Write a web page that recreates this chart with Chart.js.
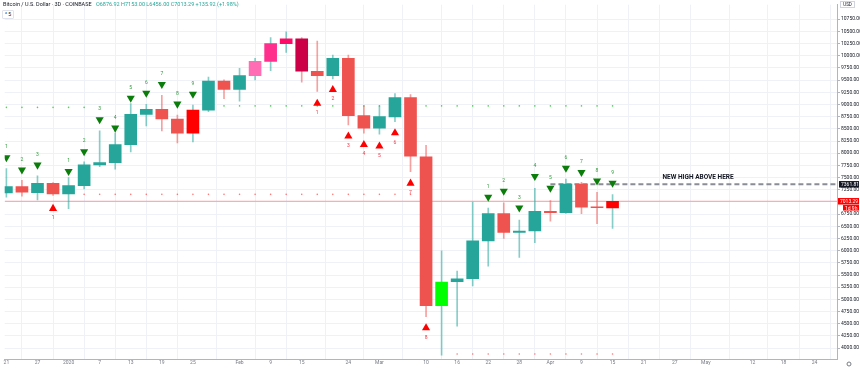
<!DOCTYPE html>
<html>
<head>
<meta charset="utf-8">
<script src="https://cdn.jsdelivr.net/npm/chart.js@4.4.1/dist/chart.umd.min.js"></script>
<style>
  html, body { margin: 0; padding: 0; background: #fff; }
  #wrap { position: relative; width: 860px; height: 369px; overflow: hidden; }
  #title { position: absolute; left: 3px; top: 1px; font: 5.5px Roboto, sans-serif; color: #131722; white-space: nowrap; }
  #title .ohlc { color: #26a69a; margin-left: 3px; }
  #collapse { position: absolute; left: 2px; top: 10px; width: 10px; height: 7px; border: 1px solid #e0e3eb; border-radius: 1px;
    font: 5px Roboto, sans-serif; color: #131722; line-height: 7px; text-align: center; background: #fff; }
</style>
</head>
<body>
<div id="wrap">
  <canvas id="btc-chart" width="860" height="369"></canvas>
  <div id="title">Bitcoin / U.S. Dollar · 3D · COINBASE <span class="ohlc">O6876.92 H7153.00 L6456.00 C7013.29 +135.92 (+1.98%)</span></div>
  <div id="collapse">^ 5</div>
</div>
<script>
// 3-day candles, Dec 2019 - Apr 15 2020 (index = candle number)
const opens = [7184, 7313, 7192, 7380, 7164, 7333, 7759, 7805, 8176, 8797, 8898, 8702, 8412, 8885, 9479, 9309, 9593, 9884, 10248, 10349,
  9681, 9593, 9944, 8771, 8514, 8743, 9141, 7927, 4870, 5362, 5423, 6200, 6759, 6374, 6403, 6807, 6779, 7366, 6894, 6876.92];
const highs = [7684, 7441, 7536, 7395, 7502, 7825, 8459, 8412, 9020, 9005, 9188, 8783, 8985, 9560, 9505, 9742, 9944, 10370, 10491, 10370,
  10301, 10011, 10011, 8973, 8973, 9222, 9202, 8163, 5998, 5579, 6996, 6874, 6981, 6625, 7279, 7030, 7467, 7400, 7198, 7153];
const lows = [7097, 7117, 7042, 7131, 6860, 7265, 7724, 7670, 8028, 8560, 8459, 8210, 8230, 8851, 9121, 9066, 9505, 9694, 10066, 9459,
  9268, 9526, 8580, 8412, 8392, 8649, 7623, 4648, 3858, 4451, 5275, 5680, 6253, 5862, 6166, 6605, 6765, 6759, 6556, 6456];
const closes = [7313, 7198, 7380, 7164, 7333, 7759, 7805, 8176, 8797, 8898, 8702, 8412, 8885, 9479, 9309, 9593, 9884, 10248, 10349, 9681,
  9593, 9944, 8771, 8514, 8750, 9141, 7941, 4870, 5356, 5423, 6200, 6759, 6374, 6403, 6807, 6779, 7366, 6894, 6880, 7013.29];

// bar colouring from the setup indicator: t = teal, r = salmon, R = red, G = green, p1..p4 = pinks
const barColorCodes = ["t", "r", "t", "r", "t", "t", "t", "t", "t", "t", "r", "r", "R", "t", "r", "t", "p1", "p2", "p3", "p4",
  "r", "t", "r", "r", "t", "t", "r", "r", "G", "t", "t", "t", "r", "t", "t", "r", "t", "r", "r", "R"];

// sell setup counts (green, above bars)
const sellIdx = [0, 1, 2, 4, 5, 6, 7, 8, 9, 10, 11, 12, 31, 32, 33, 34, 35, 36, 37, 38, 39];
const sellLevel = [7911, 7658, 7759, 7628, 8033, 8690, 8518, 9132, 9233, 9415, 9010, 9213, 7101, 7223, 6879, 7527, 7284, 7695, 7607, 7431, 7385];
const sellCount = [1, 2, 3, 1, 2, 3, 4, 5, 6, 7, 8, 9, 1, 2, 3, 4, 5, 6, 7, 8, 9];

// buy setup counts (red, below bars)
const buyIdx = [3, 20, 21, 22, 23, 24, 25, 26, 27];
const buyLevel = [6864, 9022, 9305, 8348, 8176, 8145, 8415, 7382, 4415];
const buyCount = [1, 1, 2, 3, 4, 5, 6, 7, 8];

// dotted TDST levels
const resistIdx = [0, 1, 2, 3, 4, 5, 13, 14, 15, 16, 17, 18, 19, 20, 21, 22, 23, 24, 25, 26, 27, 28, 29, 30, 31, 32, 33, 34, 35, 36, 37, 38, 39];
const resistLevel = [8940, 8940, 8940, 8940, 8940, 8940, 8970, 8970, 8970, 8970, 8970, 8970, 8970, 8970, 8970, 8970, 8970, 8970, 8970, 8970,
  8970, 8970, 8970, 8970, 8970, 8970, 8970, 8970, 8970, 8970, 8970, 8970, 8970];
const supportIdx = [5, 6, 7, 8, 9, 10, 11, 12, 13, 14, 15, 16, 17, 18, 19, 20, 21, 22, 23, 24, 25, 26, 29, 30, 31, 32, 33, 34, 35, 36, 37, 38, 39];
const supportLevel = [7155, 7155, 7155, 7155, 7155, 7155, 7155, 7155, 7155, 7155, 7155, 7155, 7155, 7155, 7155, 7155, 7155, 7155, 7155, 7155,
  7155, 7155, 3879, 3879, 3879, 3879, 3879, 3879, 3879, 3879, 3879, 3879, 3879];

const newHighLevel = 7361.81;
const newHighFrom = 35;
const newHighText = "NEW HIGH ABOVE HERE";
const noteAt = 44.5;
const countdown = "1d 9h";

const xTickPos = [0, 2, 4, 6, 8, 10, 12, 15, 17, 19, 22, 24, 27, 29, 31, 33, 35, 37, 39, 41, 43, 45, 48, 50, 52];
const xTickLabels = ["21", "27", "2020", "7", "13", "19", "25", "Feb", "9", "15", "24", "Mar", "10", "16", "22", "28", "Apr", "9", "15",
  "21", "27", "May", "12", "18", "24"];
const priceTicks = [4000, 4250, 4500, 4750, 5000, 5250, 5500, 5750, 6000, 6250, 6500, 6750, 7000, 7250, 7500, 7750, 8000, 8250, 8500,
  8750, 9000, 9250, 9500, 9750, 10000, 10250, 10500, 10750];

const xMin = -0.11;
const xMax = 53.44;
const yMin = 3777;
const yMax = 11047;

const FONT = "Roboto, 'DejaVu Sans', sans-serif";
const palette = {
  t: "#26a69a", r: "#ef5350", R: "#ff0000", G: "#00ff00",
  p1: "#ff6eb4", p2: "#ff2f8e", p3: "#ff0a66", p4: "#cc0046",
};
const upWick = "rgba(38, 166, 154, 0.55)";
const downWick = "rgba(239, 83, 80, 0.55)";

const lastClose = closes[closes.length - 1];
const wickColors = closes.map((c, i) => (c >= opens[i] ? upWick : downWick));
const bodyColors = barColorCodes.map((code) => palette[code]);

const countLabels = {
  id: "countLabels",
  afterDatasetsDraw(chart) {
    const { ctx } = chart;
    ctx.save();
    ctx.font = "5px " + FONT;
    ctx.textAlign = "center";
    ctx.textBaseline = "middle";
    chart.data.datasets.forEach((ds, di) => {
      if (!ds.counts) return;
      const meta = chart.getDatasetMeta(di);
      ctx.fillStyle = ds.countColor;
      meta.data.forEach((pt, k) => {
        ctx.fillText(String(ds.counts[k]), pt.x, pt.y + ds.countOffset);
      });
    });
    ctx.restore();
  },
};

const priceTags = {
  id: "priceTags",
  afterDraw(chart) {
    const { ctx, scales, chartArea } = chart;
    const y = scales.y;
    const x = scales.x;
    ctx.save();
    // note above the dashed line
    ctx.font = "bold 6.5px " + FONT;
    ctx.fillStyle = "#131722";
    ctx.textAlign = "center";
    ctx.textBaseline = "middle";
    ctx.fillText(newHighText, x.getPixelForValue(noteAt), y.getPixelForValue(newHighLevel) - 7);

    const left = chartArea.right + 1;
    const tag = (value, dy, h, bg, text, inset) => {
      const py = y.getPixelForValue(value) + dy;
      ctx.fillStyle = bg;
      ctx.fillRect(left + inset, py - h / 2, 860 - left - inset - 1, h);
      ctx.fillStyle = "#fff";
      ctx.font = "5px " + FONT;
      ctx.textAlign = "left";
      ctx.fillText(text, left + inset + 2, py + 0.5);
    };
    tag(newHighLevel, 0, 6.5, "#131722", newHighLevel.toFixed(2), 1);
    tag(lastClose, 0, 6.5, "#ff0000", lastClose.toFixed(2), 0);
    tag(lastClose, 6.5, 5.5, "#ff0000", countdown, 5);

    // currency box and settings mark
    ctx.strokeStyle = "#d1d4dc";
    ctx.lineWidth = 1;
    ctx.fillStyle = "#fff";
    ctx.fillRect(840.5, 1.5, 14, 6);
    ctx.strokeRect(840.5, 1.5, 14, 6);
    ctx.fillStyle = "#131722";
    ctx.font = "4.5px " + FONT;
    ctx.textAlign = "center";
    ctx.fillText("USD", 847.5, 4.8);
    ctx.strokeStyle = "#787b86";
    ctx.beginPath();
    ctx.arc(849, 364, 2, 0, Math.PI * 2);
    ctx.stroke();
    ctx.restore();
  },
};

const points = (idx, vals) => idx.map((i, k) => ({ x: i, y: vals[k] }));

new Chart(document.getElementById("btc-chart"), {
  type: "bar",
  data: {
    datasets: [
      {
        type: "line",
        data: [{ x: xMin, y: lastClose }, { x: xMax, y: lastClose }],
        borderColor: "rgba(242, 54, 69, 0.45)",
        borderWidth: 1,
        pointRadius: 0,
        order: 9,
      },
      {
        type: "line",
        data: [{ x: newHighFrom, y: newHighLevel }, { x: xMax, y: newHighLevel }],
        borderColor: "#8a8d96",
        borderWidth: 2,
        borderDash: [5, 3],
        pointRadius: 0,
        order: 8,
      },
      {
        type: "line",
        data: points(resistIdx, resistLevel),
        showLine: false,
        pointRadius: 0.8,
        pointBorderWidth: 0,
        pointBackgroundColor: "rgba(0, 200, 0, 0.7)",
        order: 7,
      },
      {
        type: "line",
        data: points(supportIdx, supportLevel),
        showLine: false,
        pointRadius: 0.8,
        pointBorderWidth: 0,
        pointBackgroundColor: "rgba(255, 60, 60, 0.7)",
        order: 7,
      },
      {
        data: closes.map((c, i) => ({ x: i, y: [lows[i], highs[i]] })),
        backgroundColor: wickColors,
        barThickness: 1,
        grouped: false,
        order: 5,
      },
      {
        data: closes.map((c, i) => ({ x: i, y: [opens[i], c] })),
        backgroundColor: bodyColors,
        barThickness: 12,
        minBarLength: 1,
        grouped: false,
        order: 4,
      },
      {
        type: "line",
        data: points(sellIdx, sellLevel),
        showLine: false,
        pointStyle: "triangle",
        rotation: 180,
        pointRadius: 4.7,
        pointBorderWidth: 0,
        pointBackgroundColor: "#0b7d0b",
        counts: sellCount,
        countColor: "#2e9b3a",
        countOffset: -10.5,
        order: 1,
      },
      {
        type: "line",
        data: points(buyIdx, buyLevel),
        showLine: false,
        pointStyle: "triangle",
        pointRadius: 4.7,
        pointBorderWidth: 0,
        pointBackgroundColor: "#ff0000",
        counts: buyCount,
        countColor: "#f23645",
        countOffset: 9.5,
        order: 1,
      },
    ],
  },
  options: {
    responsive: false,
    animation: false,
    events: [],
    layout: { padding: 0 },
    plugins: { legend: { display: false }, tooltip: { enabled: false } },
    scales: {
      x: {
        type: "linear",
        min: xMin,
        max: xMax,
        offset: false,
        afterBuildTicks: (s) => { s.ticks = xTickPos.map((v) => ({ value: v })); },
        afterFit: (s) => { s.height = 10; },
        ticks: {
          callback: (v, i) => xTickLabels[i],
          autoSkip: false,
          maxRotation: 0,
          padding: 1,
          color: "#787b86",
          font: { size: 5, family: FONT },
        },
        grid: { color: "#eef1f7", drawTicks: false },
        border: { color: "#b2b5be" },
      },
      y: {
        type: "linear",
        position: "right",
        min: yMin,
        max: yMax,
        afterBuildTicks: (s) => { s.ticks = priceTicks.map((v) => ({ value: v })); },
        afterFit: (s) => { s.width = 23; },
        ticks: {
          callback: (v) => v.toFixed(2),
          padding: 1,
          color: "#131722",
          font: { size: 5, family: FONT },
        },
        grid: { color: "#eef1f7", tickLength: 3, tickColor: "#b2b5be" },
        border: { color: "#b2b5be" },
      },
    },
  },
  plugins: [countLabels, priceTags],
});
</script>
</body>
</html>
